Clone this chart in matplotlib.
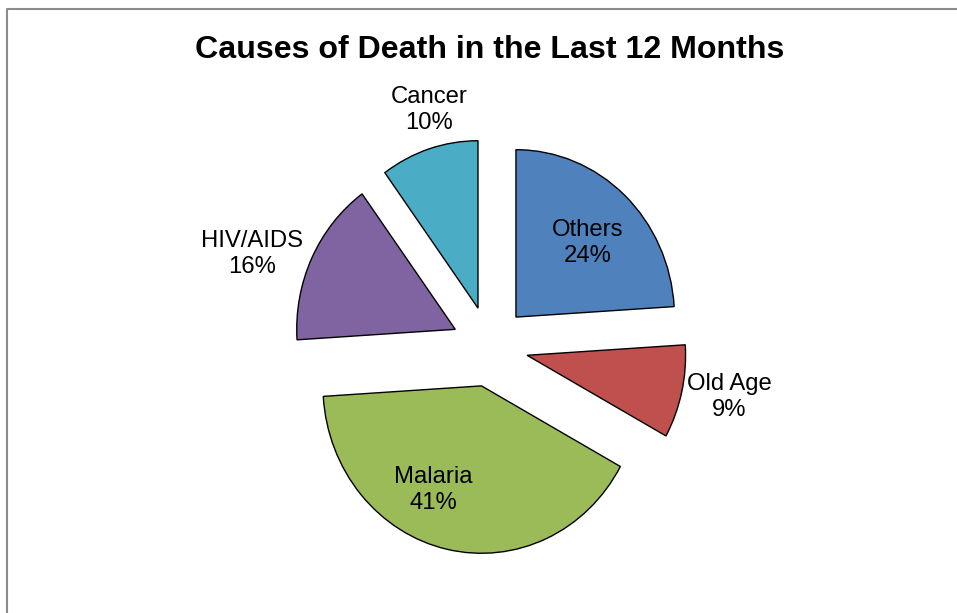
import matplotlib
matplotlib.use("Agg")
import matplotlib.pyplot as plt
import numpy as np
from matplotlib.lines import Line2D

plt.rcParams['font.family'] = ['Liberation Sans', 'DejaVu Sans']

categories = ["Others", "Old Age", "Malaria", "HIV/AIDS", "Cancer"]
values = [24, 9, 41, 16, 10]
colors = ["#4F81BD", "#C0504D", "#9BBB59", "#8064A2", "#4BACC6"]
title = "Causes of Death in the Last 12 Months"

# label placement style: radial distance (in radius units) and angular shift (deg, clockwise)
label_r = [0.875, 1.54, 0.93, 1.60, 1.464]
label_shift = [1.85, -1.3, 10.1, -5.0, 2.8]
explode_frac = 0.241

W, H = 957, 613
fig = plt.figure(figsize=(W / 100, H / 100), dpi=100)
ax = fig.add_axes([0, 0, 1, 1])

cx_px, cy_px, rx_px, ry_px = 489.8, 346.5, 158.5, 167.4

wedges, _ = ax.pie(values, colors=colors, startangle=90, counterclock=False,
                   explode=[explode_frac] * len(values), radius=1.0,
                   wedgeprops=dict(edgecolor="black", linewidth=1.0))
ax.set_aspect('auto')
ax.set_xlim((0 - cx_px) / rx_px, (W - cx_px) / rx_px)
ax.set_ylim((cy_px - H) / ry_px, (cy_px - 0) / ry_px)
ax.axis('off')

total = sum(values)
cum = 0
for i, (cat, v) in enumerate(zip(categories, values)):
    mid_cw = (cum + v / 2) / total * 360 + label_shift[i]
    cum += v
    ang = np.deg2rad(90 - mid_cw)
    x = label_r[i] * np.cos(ang)
    y = label_r[i] * np.sin(ang)
    ax.text(x, y, f"{cat}\n{v}%", ha='center', va='center', fontsize=17.2,
            linespacing=1.2, color='black')

fig.text(490 / W, 1 - 50 / H, title, ha='center', va='center',
         fontsize=23.1, fontweight='bold')

border = Line2D([7.5 / W, 7.5 / W, 1.0], [0.0, 1 - 8.5 / H, 1 - 8.5 / H],
                transform=fig.transFigure, color='#8c8c8c', linewidth=1.5)
fig.add_artist(border)

fig.savefig("out.png", dpi=100)
